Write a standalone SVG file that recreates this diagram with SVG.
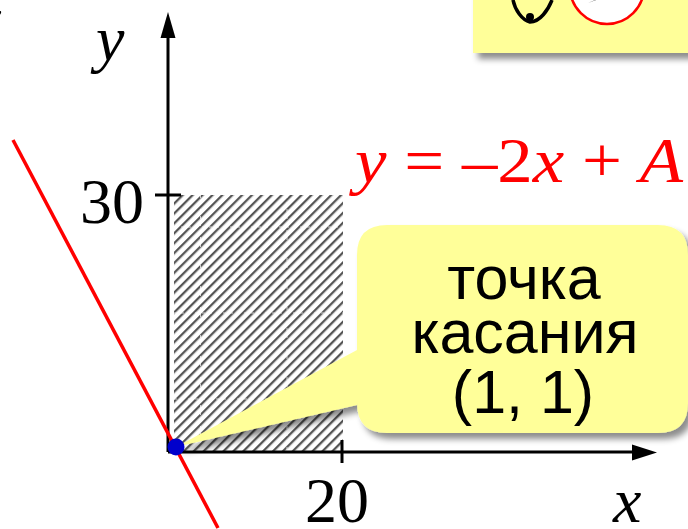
<svg xmlns="http://www.w3.org/2000/svg" width="688" height="529" viewBox="0 0 688 529">
<style>
.serif{font-family:"Liberation Serif","Times New Roman",serif;}
.it{font-style:italic;}
.sans{font-family:"Liberation Sans",Arial,sans-serif;font-size:61px;fill:#000;text-anchor:middle;}
.ax{stroke:#000;stroke-width:3;fill:none;}
.yel{fill:#FFFF99;}
</style>
<defs>
<pattern id="hatch" width="7" height="7" patternUnits="userSpaceOnUse" patternTransform="rotate(45)">
<rect x="0" y="0" width="2.3" height="7" fill="#555"/>
</pattern>
<filter id="sh" x="-10%" y="-10%" width="130%" height="140%">
<feGaussianBlur in="SourceAlpha" stdDeviation="3"/>
<feOffset dx="5" dy="6" result="b"/>
<feFlood flood-color="#000" flood-opacity="0.45"/>
<feComposite in2="b" operator="in"/>
<feMerge><feMergeNode/><feMergeNode in="SourceGraphic"/></feMerge>
</filter>
</defs>
<rect width="688" height="529" fill="#fff"/>

<g id="topbox">
<rect class="yel" x="473" y="-20" width="240" height="73" filter="url(#sh)"/>
<path d="M513,0 C515,10 522,20 530,22 C540,22 548,10 552,0" fill="none" stroke="#000" stroke-width="3.5"/>
<circle cx="530" cy="17" r="4" fill="#000"/>
<circle cx="607" cy="-13" r="37" fill="#fff" stroke="#f00" stroke-width="2.5"/>
<path d="M588,3 L600,-2 L596,0 Z" fill="#000"/>
</g>

<text class="serif it" x="-25" y="38" font-size="60" fill="#000">x</text>

<g id="region">
<rect x="174" y="195" width="169" height="256" fill="url(#hatch)"/>
<g stroke="#fff" stroke-width="1" stroke-dasharray="3 4" opacity="0.7">
<line x1="174" y1="227" x2="343" y2="227"/>
<line x1="174" y1="313" x2="343" y2="313"/>
<line x1="174" y1="399" x2="343" y2="399"/>
<line x1="200.5" y1="195" x2="200.5" y2="451"/>
<line x1="287" y1="195" x2="287" y2="451"/>
</g>
</g>

<g id="connectors">
<line class="ax" x1="168" y1="452" x2="168" y2="36"/>
<polygon points="168,12 160.5,38 175.5,38" fill="#000"/>
<line class="ax" x1="168" y1="452" x2="634" y2="452"/>
<polygon points="657,452.5 632,444.5 632,460.5" fill="#000"/>
<line class="ax" x1="155" y1="195" x2="181" y2="195"/>
<line class="ax" x1="342" y1="440" x2="342" y2="463"/>
</g>

<g id="ticks-labels">
<text class="serif" x="80" y="223" font-size="64">30</text>
<text class="serif" x="305" y="522" font-size="64">20</text>
<text class="serif it" x="96" y="60" font-size="64">y</text>
<text class="serif it" x="613" y="522" font-size="64">x</text>
</g>

<g id="line">
<line x1="13" y1="140" x2="218" y2="528" stroke="#f00" stroke-width="3.5"/>
<text class="serif" x="355" y="182" font-size="64" fill="#f00" textLength="328" lengthAdjust="spacingAndGlyphs"><tspan class="it">y</tspan> = –2<tspan class="it">x</tspan> + <tspan class="it">A</tspan></text>
</g>

<g id="callout" filter="url(#sh)">
<path class="yel" d="M387,225 H658 Q688,225 688,255 V403 Q688,433 658,433 H387 Q357,433 357,403 V405 L176,447 L357,350 V255 Q357,225 387,225 Z"/>
</g>
<g id="callout-text">
<text class="sans" x="524" y="299">точка</text>
<text class="sans" x="525" y="353">касания</text>
<text class="sans" x="523" y="413">(1, 1)</text>
</g>

<g id="point">
<circle cx="176" cy="447" r="8.5" fill="#0000CC"/>
</g>
</svg>
